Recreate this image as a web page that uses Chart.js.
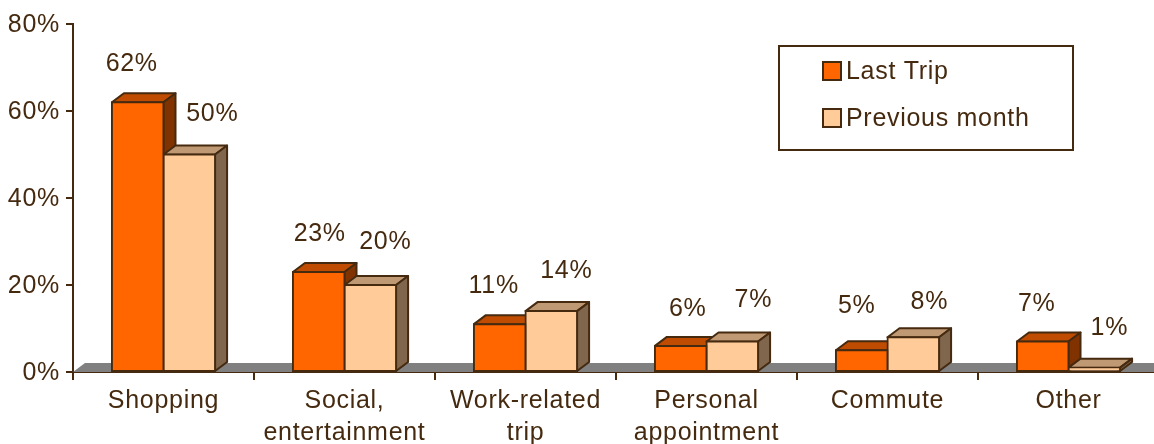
<!DOCTYPE html>
<html>
<head>
<meta charset="utf-8">
<style>
html,body{margin:0;padding:0;background:#fff;overflow:hidden;width:1154px;height:444px}
canvas{display:block}
</style>
<script src="https://cdn.jsdelivr.net/npm/chart.js@4/dist/chart.umd.min.js"></script>
</head>
<body>
<canvas id="c" width="1159" height="444"></canvas>
<script>
const categories = ["Shopping", ["Social,", "entertainment"], ["Work-related", "trip"], ["Personal", "appointment"], "Commute", "Other"];
const lastTrip = [62, 23, 11, 6, 5, 7];
const previousMonth = [50, 20, 14, 7, 8, 1];
const yTicks = [0, 20, 40, 60, 80];

const INK = "#452a10";
const FONT = '"Liberation Sans", Arial, sans-serif';
const FS = 25;
const DX = 12, DY = 9;
// hand placement of the value labels, relative to the top centre of each bar
const labelShift = [
  { x: [-6, 1, -6, 7, -5, -6], y: [-38, -38, -38, -37, -44, -37] },
  { x: [23, 15, 15, 21, 16, 15], y: [-40, -43, -40, -41, -35, -40] }
];

function path(ctx, pts, fill) {
  ctx.beginPath();
  pts.forEach((p, i) => i ? ctx.lineTo(p[0], p[1]) : ctx.moveTo(p[0], p[1]));
  ctx.closePath();
  ctx.fillStyle = fill;
  ctx.fill();
  ctx.lineJoin = "round";
  ctx.lineWidth = 2;
  ctx.strokeStyle = INK;
  ctx.stroke();
}

const bars3d = {
  id: "bars3d",
  beforeDraw(chart) { chart.ctx.letterSpacing = "0.7px"; },
  beforeDatasetsDraw(chart) {
    const ctx = chart.ctx, a = chart.chartArea;
    ctx.save();
    // grey floor
    ctx.beginPath();
    ctx.moveTo(a.left, a.bottom);
    ctx.lineTo(a.left + DX, a.bottom - DY);
    ctx.lineTo(a.right, a.bottom - DY);
    ctx.lineTo(a.right, a.bottom);
    ctx.closePath();
    ctx.fillStyle = "#808080";
    ctx.fill();
    // tops and sides
    chart.data.datasets.forEach((ds, i) => {
      chart.getDatasetMeta(i).data.forEach(b => {
        const l = b.x - b.width / 2, r = b.x + b.width / 2, t = b.y, bt = b.base;
        path(ctx, [[l, t], [l + DX, t - DY], [r + DX, t - DY], [r, t]], ds.topColor);
        path(ctx, [[r, t], [r + DX, t - DY], [r + DX, bt - DY], [r, bt]], ds.sideColor);
      });
    });
    ctx.restore();
  },
  afterDatasetsDraw(chart) {
    const ctx = chart.ctx;
    ctx.save();
    ctx.font = FS + "px " + FONT;
    ctx.fillStyle = INK;
    ctx.textAlign = "center";
    ctx.textBaseline = "middle";
    chart.data.datasets.forEach((ds, i) => {
      chart.getDatasetMeta(i).data.forEach((b, j) => {
        ctx.fillText(ds.data[j] + "%", b.x + labelShift[i].x[j], b.y + labelShift[i].y[j]);
      });
    });
    // legend
    const box = { x: 779, y: 46, w: 294, h: 104 };
    ctx.lineWidth = 2;
    ctx.strokeStyle = INK;
    ctx.fillStyle = "#fff";
    ctx.fillRect(box.x, box.y, box.w, box.h);
    ctx.strokeRect(box.x, box.y, box.w, box.h);
    ctx.textAlign = "left";
    chart.data.datasets.forEach((ds, i) => {
      const cy = 71 + i * 47;
      ctx.fillStyle = ds.backgroundColor;
      ctx.fillRect(823, cy - 9, 18, 18);
      ctx.strokeRect(823, cy - 9, 18, 18);
      ctx.fillStyle = INK;
      ctx.fillText(ds.label, 846, cy + 1.5);
    });
    ctx.restore();
  }
};

new Chart(document.getElementById("c"), {
  type: "bar",
  data: {
    labels: categories,
    datasets: [
      { label: "Last Trip", data: lastTrip, backgroundColor: "#FF6600", topColor: "#BF4C00", sideColor: "#803300",
        borderColor: INK, borderWidth: 2, borderSkipped: false, inflateAmount: 1 },
      { label: "Previous month", data: previousMonth, backgroundColor: "#FFCC99", topColor: "#BF9973", sideColor: "#80664D",
        borderColor: INK, borderWidth: 2, borderSkipped: false, inflateAmount: 1 }
    ]
  },
  options: {
    responsive: false,
    animation: false,
    devicePixelRatio: 1,
    layout: { padding: { top: 24, right: 0, left: 0, bottom: 0 } },
    datasets: { bar: { categoryPercentage: 0.57, barPercentage: 1 } },
    plugins: { legend: { display: false }, tooltip: { enabled: false }, title: { display: false } },
    scales: {
      x: {
        grid: { offset: true, drawOnChartArea: false, drawTicks: true, tickLength: 8, color: INK, lineWidth: 2 },
        border: { display: true, color: INK, width: 2 },
        ticks: { color: INK, font: { family: FONT, size: FS, lineHeight: 1.28 }, padding: 5, maxRotation: 0, minRotation: 0, autoSkip: false },
        afterFit(s) { s.height = 72; }
      },
      y: {
        min: 0, max: 80,
        afterBuildTicks(s) { s.ticks = yTicks.map(v => ({ value: v })); },
        grid: { drawOnChartArea: false, drawTicks: true, tickLength: 7, color: INK, lineWidth: 2 },
        border: { display: true, color: INK, width: 2 },
        ticks: { color: INK, font: { family: FONT, size: FS }, padding: 6, labelOffset: 1, callback: v => v + "%" },
        afterFit(s) { s.width = 73; }
      }
    }
  },
  plugins: [bars3d]
});
</script>
</body>
</html>
